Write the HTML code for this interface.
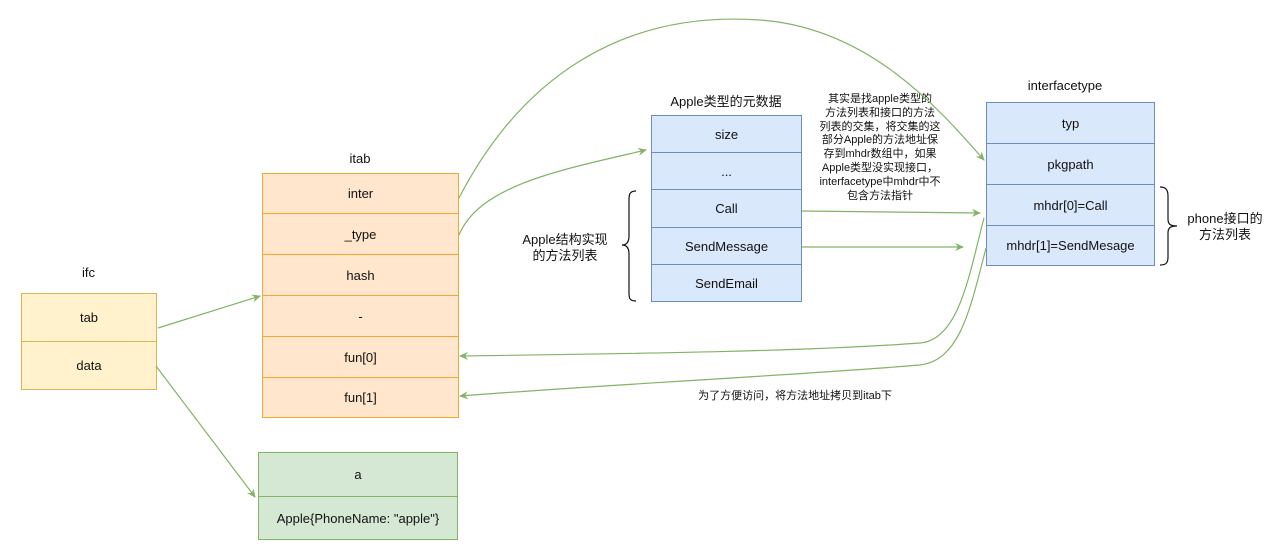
<!DOCTYPE html>
<html><head><meta charset="utf-8"><style>
body{margin:0;width:1280px;height:549px;background:#fff;overflow:hidden;font-family:"Liberation Sans","Noto Sans CJK SC",sans-serif;}
.b{position:absolute;box-sizing:border-box;display:flex;align-items:center;justify-content:center;font-size:13px;color:#111;}
.t{position:absolute;font-size:13px;color:#111;text-align:center;}
</style></head><body>
<div style="position:absolute;left:0;top:0">
<div class="t" style="left:21px;top:265px;width:135px">ifc</div>
<div class="b" style="left:21px;top:293px;width:136px;height:49px;background:#fff2cc;border:1px solid #d6b656">tab</div>
<div class="b" style="left:21px;top:341px;width:136px;height:49px;background:#fff2cc;border:1px solid #d6b656">data</div>
<div class="t" style="left:262px;top:151px;width:196px">itab</div>
<div class="b" style="left:262px;top:173px;width:197px;height:41px;background:#ffe6cc;border:1px solid #f0a830">inter</div>
<div class="b" style="left:262px;top:213px;width:197px;height:42px;background:#ffe6cc;border:1px solid #f0a830">_type</div>
<div class="b" style="left:262px;top:254px;width:197px;height:42px;background:#ffe6cc;border:1px solid #f0a830">hash</div>
<div class="b" style="left:262px;top:295px;width:197px;height:42px;background:#ffe6cc;border:1px solid #f0a830">-</div>
<div class="b" style="left:262px;top:336px;width:197px;height:42px;background:#ffe6cc;border:1px solid #f0a830">fun[0]</div>
<div class="b" style="left:262px;top:377px;width:197px;height:41px;background:#ffe6cc;border:1px solid #f0a830">fun[1]</div>
<div class="b" style="left:258px;top:452px;width:200px;height:45px;background:#d5e8d4;border:1px solid #82b366">a</div>
<div class="b" style="left:258px;top:496px;width:200px;height:44px;background:#d5e8d4;border:1px solid #82b366">Apple{PhoneName: "apple"}</div>
<div class="t" style="left:651px;top:91px;width:150px">Apple类型的元数据</div>
<div class="b" style="left:651px;top:115px;width:151px;height:38px;background:#dae8fc;border:1px solid #6c8ebf">size</div>
<div class="b" style="left:651px;top:152px;width:151px;height:38px;background:#dae8fc;border:1px solid #6c8ebf">...</div>
<div class="b" style="left:651px;top:189px;width:151px;height:39px;background:#dae8fc;border:1px solid #6c8ebf">Call</div>
<div class="b" style="left:651px;top:227px;width:151px;height:38px;background:#dae8fc;border:1px solid #6c8ebf">SendMessage</div>
<div class="b" style="left:651px;top:264px;width:151px;height:38px;background:#dae8fc;border:1px solid #6c8ebf">SendEmail</div>
<div class="t" style="left:510px;top:232px;width:110px;line-height:16px">Apple结构实现<br>的方法列表</div>
<div class="t" style="left:986px;top:78px;width:158px">interfacetype</div>
<div class="b" style="left:986px;top:102px;width:169px;height:42px;background:#dae8fc;border:1px solid #6c8ebf">typ</div>
<div class="b" style="left:986px;top:143px;width:169px;height:42px;background:#dae8fc;border:1px solid #6c8ebf">pkgpath</div>
<div class="b" style="left:986px;top:184px;width:169px;height:42px;background:#dae8fc;border:1px solid #6c8ebf">mhdr[0]=Call</div>
<div class="b" style="left:986px;top:225px;width:169px;height:41px;background:#dae8fc;border:1px solid #6c8ebf">mhdr[1]=SendMesage</div>
<div class="t" style="left:1185px;top:211px;width:80px;line-height:16px">phone接口的<br>方法列表</div>
<div class="t" style="left:800px;top:93px;width:160px;font-size:11px;line-height:13.8px;white-space:nowrap">其实是找apple类型的<br>方法列表和接口的方法<br>列表的交集，将交集的这<br>部分Apple的方法地址保<br>存到mhdr数组中，如果<br>Apple类型没实现接口，<br>interfacetype中mhdr中不<br>包含方法指针</div>
<div class="t" style="left:680px;top:387px;width:230px;font-size:11px">为了方便访问，将方法地址拷贝到itab下</div>
</div>
<svg width="1280" height="549" style="position:absolute;left:0;top:0" fill="none" stroke="#82b366" stroke-width="1.2">
<defs><marker id="m" markerWidth="10" markerHeight="10" refX="8" refY="5" orient="auto" markerUnits="userSpaceOnUse"><path d="M0,1 L9,5 L0,9 L3,5 Z" fill="#82b366" stroke="none"/></marker></defs>
<path d="M158,328 L260,296" marker-end="url(#m)"/>
<path d="M156,366 L255,497" marker-end="url(#m)"/>
<path d="M459,198 C520,80 620,10 760,20 C870,28 940,110 984,160" marker-end="url(#m)"/>
<path d="M459,235 C480,185 560,170 646,150" marker-end="url(#m)"/>
<path d="M802,211 L980,213" marker-end="url(#m)"/>
<path d="M802,247 L963,247" marker-end="url(#m)"/>
<path d="M984,218 C970,270 960,340 920,343 C800,352 600,354 460,356" marker-end="url(#m)"/>
<path d="M986,248 C970,310 960,360 920,365 C800,375 600,385 460,396" marker-end="url(#m)"/>
<path d="M636,191 C628,191 629,196 629,205 L629,236 C629,243 626,245 622,245 C626,245 629,247 629,254 L629,288 C629,297 628,301 636,301" stroke="#111"/>
<path d="M1160,187 C1166,187 1168,190 1168,196 L1168,219 C1168,224 1170,226 1177,226 C1170,226 1168,228 1168,233 L1168,257 C1168,263 1166,265 1160,265" stroke="#111"/>
</svg>
</body></html>
